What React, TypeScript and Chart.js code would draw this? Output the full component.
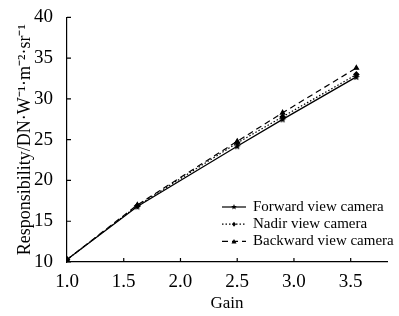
import React, { useEffect, useRef } from "react";
import { Chart, registerables } from "chart.js";

Chart.register(...registerables);

const gains = [1.0, 1.62, 2.5, 2.9, 3.55];
const forward = [10.3, 16.8, 24.2, 27.5, 32.7];
const nadir = [10.3, 16.9, 24.6, 27.8, 33.0];
const backward = [10.3, 17.0, 24.8, 28.3, 33.8];
const xTicks = [1.0, 1.5, 2.0, 2.5, 3.0, 3.5];
const seriesNames = ["Forward view camera", "Nadir view camera", "Backward view camera"];

const FONT = "'Liberation Serif', 'Times New Roman', serif";

const inwardTicks = {
  id: "inwardTicks",
  afterDraw(chart: any) {
    const ctx = chart.ctx;
    const x = chart.scales.x;
    const y = chart.scales.y;
    const area = chart.chartArea;
    ctx.save();
    ctx.strokeStyle = "#000";
    ctx.lineWidth = 1.2;
    ctx.beginPath();
    x.ticks.forEach((t: any) => {
      const px = x.getPixelForValue(t.value);
      ctx.moveTo(px, area.bottom);
      ctx.lineTo(px, area.bottom - 4);
    });
    y.ticks.forEach((t: any) => {
      const py = y.getPixelForValue(t.value);
      ctx.moveTo(area.left, py);
      ctx.lineTo(area.left + 4, py);
    });
    ctx.stroke();
    ctx.restore();
  },
};

const customLegend = {
  id: "customLegend",
  afterDraw(chart: any) {
    const ctx = chart.ctx;
    const area = chart.chartArea;
    const startX = area.left + 155;
    const startY = area.bottom - 55;
    const rowH = 17.2;
    ctx.save();
    chart.data.datasets.forEach((ds: any, i: number) => {
      const yy = startY + i * rowH;
      ctx.strokeStyle = "#000";
      ctx.lineWidth = 1.2;
      ctx.setLineDash(ds.borderDash || []);
      ctx.beginPath();
      ctx.moveTo(startX, yy);
      ctx.lineTo(startX + 24, yy);
      ctx.stroke();
      ctx.setLineDash([]);
      ctx.fillStyle = "#000";
      const mx = startX + 12;
      ctx.beginPath();
      if (ds.pointStyle === "triangle") {
        ctx.moveTo(mx, yy - 2.5);
        ctx.lineTo(mx + 2.5, yy + 2);
        ctx.lineTo(mx - 2.5, yy + 2);
        ctx.closePath();
      } else if (ds.pointStyle === "rectRot") {
        ctx.moveTo(mx, yy - 2.5);
        ctx.lineTo(mx + 2, yy);
        ctx.lineTo(mx, yy + 2.5);
        ctx.lineTo(mx - 2, yy);
        ctx.closePath();
      } else {
        for (let k = 0; k < 10; k++) {
          const r = k % 2 === 0 ? 3 : 1.3;
          const a = -Math.PI / 2 + (k * Math.PI) / 5;
          const px = mx + r * Math.cos(a);
          const py = yy + r * Math.sin(a);
          if (k === 0) ctx.moveTo(px, py);
          else ctx.lineTo(px, py);
        }
        ctx.closePath();
      }
      ctx.fill();
      ctx.font = "15px " + FONT;
      ctx.textBaseline = "middle";
      ctx.textAlign = "left";
      ctx.fillText(ds.label, startX + 31, yy);
    });
    ctx.restore();
  },
};

function starCanvas(): HTMLCanvasElement {
  const c = document.createElement("canvas");
  c.width = 8;
  c.height = 8;
  const ctx = c.getContext("2d")!;
  ctx.fillStyle = "#000";
  ctx.beginPath();
  for (let k = 0; k < 10; k++) {
    const r = k % 2 === 0 ? 3.8 : 1.6;
    const a = -Math.PI / 2 + (k * Math.PI) / 5;
    const px = 4 + r * Math.cos(a);
    const py = 4.3 + r * Math.sin(a);
    if (k === 0) ctx.moveTo(px, py);
    else ctx.lineTo(px, py);
  }
  ctx.closePath();
  ctx.fill();
  return c;
}

export default function App() {
  const ref = useRef<HTMLCanvasElement | null>(null);
  useEffect(() => {
    if (!ref.current) return;
    const mk = (arr: number[]) => gains.map((g, i) => ({ x: g, y: arr[i] }));
    const chart = new Chart(ref.current, {
      type: "line",
      data: {
        datasets: [
          {
            label: seriesNames[0],
            data: mk(forward),
            borderColor: "#000",
            backgroundColor: "#000",
            borderWidth: 1.3,
            pointStyle: starCanvas() as any,
            pointRadius: 3,
            borderDash: [],
          },
          {
            label: seriesNames[1],
            data: mk(nadir),
            borderColor: "#000",
            backgroundColor: "#000",
            borderWidth: 1.2,
            pointStyle: "rectRot",
            pointRadius: 2.5,
            borderDash: [1.5, 2],
          },
          {
            label: seriesNames[2],
            data: mk(backward),
            borderColor: "#000",
            backgroundColor: "#000",
            borderWidth: 1.2,
            pointStyle: "triangle",
            pointRadius: 2.5,
            borderDash: [6, 4],
          },
        ] as any,
      },
      options: {
        animation: false,
        responsive: false,
        maintainAspectRatio: false,
        layout: { padding: { top: 15, right: 12, left: 0, bottom: 0 } },
        plugins: { legend: { display: false }, tooltip: { enabled: false } },
        scales: {
          x: {
            type: "linear",
            min: 1.0,
            max: 3.82,
            afterBuildTicks: (s: any) => {
              s.ticks = xTicks.map((v) => ({ value: v }));
            },
            afterFit: (s: any) => {
              s.height = 54;
            },
            grid: { display: false },
            border: { display: true, color: "#000", width: 1.2 },
            ticks: {
              color: "#000",
              font: { family: FONT, size: 19 },
              padding: 1,
              maxRotation: 0,
              callback: (v: any) => Number(v).toFixed(1),
            },
            title: {
              display: true,
              text: "Gain",
              color: "#000",
              font: { family: FONT, size: 17 },
              padding: { top: 0, bottom: 2 },
            },
          },
          y: {
            type: "linear",
            min: 10,
            max: 40,
            afterFit: (s: any) => {
              s.width = 67;
            },
            grid: { display: false },
            border: { display: true, color: "#000", width: 1.2 },
            ticks: {
              stepSize: 5,
              color: "#000",
              font: { family: FONT, size: 19 },
              padding: 6,
            },
            title: {
              display: true,
              text: "Responsibility/DN·W⁻¹·m⁻²·sr⁻¹",
              color: "#000",
              font: { family: FONT, size: 18 },
              padding: { top: 14, bottom: 0 },
            },
          },
        },
      } as any,
      plugins: [inwardTicks, customLegend],
    });
    return () => chart.destroy();
  }, []);
  return (
    <div style={{ position: "fixed", left: 0, top: 0, width: 399, height: 316, background: "#fff" }}>
      <canvas ref={ref} width={399} height={316} style={{ width: 399, height: 316 }} />
    </div>
  );
}
